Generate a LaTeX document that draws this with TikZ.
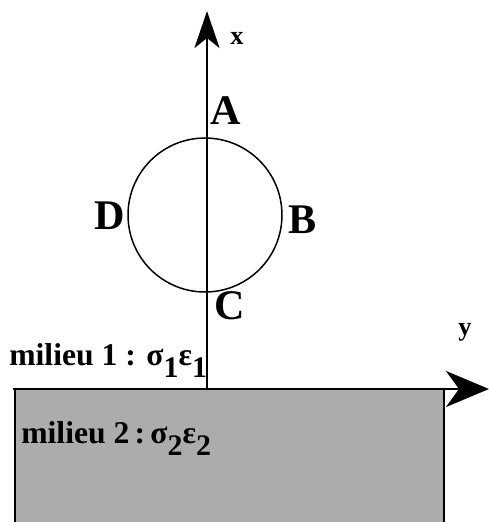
\documentclass[tikz,border=0pt]{standalone}
\usepackage{fontspec}
\setmainfont{Liberation Serif}
\usepackage{xcolor}
\usepackage{tikz}
\usetikzlibrary{positioning, arrows.meta}
\definecolor{groundgray}{RGB}{172,172,172}
\newcommand{\lowsub}[1]{\raisebox{-0.4em}{\fontsize{17}{17}\selectfont #1}}

\begin{document}
\begin{tikzpicture}[
    x=0.02cm, y=-0.02cm,
    pt/.style={font=\fontsize{24}{24}\selectfont\bfseries, inner sep=0pt},
    axlabel/.style={font=\fontsize{15}{15}\selectfont\bfseries, inner sep=0pt},
    medium/.style={font=\fontsize{18}{18}\selectfont\bfseries, inner sep=0pt},
    axis/.style={line width=1.6pt},
    every node/.style={align=center}
]
\useasboundingbox (0,0) rectangle (489,522);

% ---- milieu 2 ----
\fill[groundgray] (15,389) rectangle (444,522);
\draw[line width=1.3pt] (15,522) -- (15,389) (444,389) -- (444,522);

% ---- axes ----
\coordinate (O)  at (207,389);
\coordinate (xl) at (13,389);
\coordinate (xt) at (489,389);
\coordinate (yt) at (207,11);
\draw[axis, -{Stealth[length=0.86cm, width=0.72cm, inset=0.26cm]}] (xl) -- (xt);
\draw[axis, -{Stealth[length=0.74cm, width=0.5cm, inset=0.2cm]}] (O) -- (yt);
\node[axlabel] (lx) at (237,38)  {x};
\node[axlabel] (ly) at (465,332) {y};

% ---- circle ----
\node[draw, circle, line width=0.85pt, inner sep=0pt, minimum size=3.08cm] (c) at (205,215) {};
\node[pt] (A) at (226,111) {A};
\node[pt] (B) at (303,220) {B};
\node[pt] (C) at (230,306) {C};
\node[pt] (D) at (110,216) {D};

% ---- media ----
\node[medium, anchor=base west] (m1) at (9,365)
    {milieu 1 : σ\lowsub{1}ε\lowsub{1}};
\node[medium, anchor=base west] (m2) at (21,443)
    {milieu 2\,:\,σ\lowsub{2}ε\lowsub{2}};

\end{tikzpicture}
\end{document}
